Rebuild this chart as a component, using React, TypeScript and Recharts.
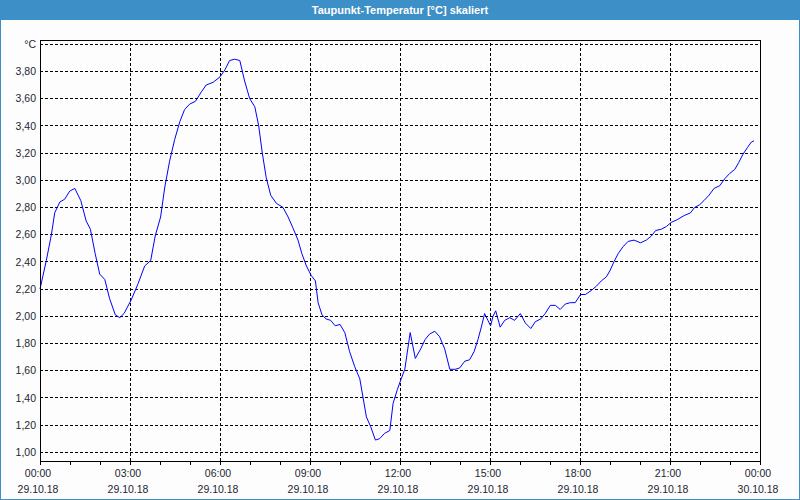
import React from 'react';
import {
    LineChart, Line, XAxis, YAxis, CartesianGrid, ReferenceLine, ReferenceArea,
} from 'recharts';

// Zeit in Stunden ab 29.10.18 00:00
const hours = [
    0.0, 0.21, 0.38, 0.49, 0.66, 0.82, 0.99, 1.16, 1.36, 1.54, 1.68, 1.84, 1.99, 2.16, 2.32, 2.51, 2.66, 2.8,
    3.04, 3.27, 3.49, 3.69, 3.84, 4.02, 4.16, 4.32, 4.49, 4.66, 4.82, 4.99, 5.18, 5.38, 5.54, 5.77,
    6.0, 6.16, 6.32, 6.49, 6.66, 6.82, 6.99, 7.16, 7.29, 7.41, 7.54, 7.69, 7.88, 8.1, 8.27, 8.43, 8.6, 8.73, 8.88,
    9.04, 9.18, 9.27, 9.4, 9.54, 9.69, 9.84, 10.0, 10.16, 10.32, 10.49, 10.66, 10.77, 10.88, 11.02, 11.18, 11.32,
    11.49, 11.66, 11.77, 11.91, 12.04, 12.16, 12.24, 12.34, 12.51, 12.69, 12.84, 12.99, 13.16, 13.32, 13.49,
    13.66, 13.84, 13.99, 14.16, 14.32, 14.47, 14.6, 14.71, 14.82, 14.93, 15.02, 15.1, 15.19, 15.34, 15.49,
    15.66, 15.82, 16.01, 16.18, 16.36, 16.51, 16.69, 16.84, 17.01, 17.18, 17.34, 17.51, 17.68, 17.84,
    18.02, 18.18, 18.38, 18.54, 18.71, 18.88, 19.01, 19.13, 19.27, 19.43, 19.6, 19.8, 20.02, 20.21, 20.38,
    20.52, 20.71, 20.88, 21.04, 21.24, 21.47, 21.68, 21.82, 21.99, 22.13, 22.3, 22.47, 22.66, 22.82, 22.99,
    23.16, 23.29, 23.43, 23.58, 23.71, 23.8,
];

const dewPoint = [
    2.2, 2.41, 2.6, 2.76, 2.84, 2.86, 2.92, 2.94, 2.85, 2.7, 2.64, 2.46, 2.31, 2.27, 2.13, 2.01, 1.99, 2.02,
    2.12, 2.24, 2.37, 2.41, 2.59, 2.73, 2.95, 3.14, 3.3, 3.43, 3.52, 3.56, 3.58, 3.65, 3.7, 3.72,
    3.76, 3.81, 3.88, 3.89, 3.88, 3.73, 3.6, 3.54, 3.4, 3.2, 3.02, 2.89, 2.83, 2.8, 2.73, 2.65, 2.56, 2.46, 2.37,
    2.3, 2.26, 2.1, 2.01, 1.98, 1.97, 1.93, 1.94, 1.88, 1.74, 1.63, 1.54, 1.4, 1.26, 1.19, 1.09, 1.1,
    1.14, 1.16, 1.36, 1.46, 1.54, 1.61, 1.73, 1.88, 1.69, 1.76, 1.83, 1.87, 1.89, 1.85, 1.76,
    1.61, 1.61, 1.62, 1.67, 1.68, 1.74, 1.83, 1.92, 2.02, 1.97, 1.93, 2.0, 2.04, 1.92, 1.97,
    1.99, 1.97, 2.02, 1.95, 1.91, 1.96, 1.98, 2.02, 2.08, 2.08, 2.05, 2.09, 2.1, 2.1,
    2.16, 2.16, 2.19, 2.22, 2.26, 2.29, 2.34, 2.4, 2.46, 2.51, 2.55, 2.56, 2.54, 2.56, 2.59,
    2.63, 2.64, 2.66, 2.69, 2.71, 2.74, 2.76, 2.8, 2.82, 2.85, 2.89, 2.94, 2.96, 3.01, 3.05,
    3.08, 3.13, 3.19, 3.24, 3.28, 3.29,
];

const xTicks = [0, 1, 2, 3, 4, 5, 6, 7, 8, 9, 10, 11, 12, 13, 14, 15, 16, 17, 18, 19, 20, 21, 22, 23, 24];
const gridHours = [3, 6, 9, 12, 15, 18, 21];
const timeLabels = ['00:00', '03:00', '06:00', '09:00', '12:00', '15:00', '18:00', '21:00', '00:00'];
const dateLabels = ['29.10.18', '29.10.18', '29.10.18', '29.10.18', '29.10.18', '29.10.18', '29.10.18', '29.10.18', '30.10.18'];
const yTicks = [1.0, 1.2, 1.4, 1.6, 1.8, 2.0, 2.2, 2.4, 2.6, 2.8, 3.0, 3.2, 3.4, 3.6, 3.8, 4.0];
const yMin = 0.936;
const yMax = 4.031;

const FONT = '"Liberation Sans", Arial, sans-serif';
const TEXT = '#1f1f33';

const chartData = hours.map((h, i) => ({ h, v: dewPoint[i] }));

const TimeTick = (props: any) => {
    const { x, y, payload } = props;
    const h = payload.value as number;
    if (h % 3 !== 0) return <g />;
    const idx = h / 3;
    return (
        <g>
            <text x={x - 2} y={y} dy={10} textAnchor="middle" fontSize={10.5} fontFamily={FONT} fill={TEXT}>
                {timeLabels[idx]}
            </text>
            <text x={x - 2} y={y} dy={26} textAnchor="middle" fontSize={10.5} fontFamily={FONT} fill={TEXT}>
                {dateLabels[idx]}
            </text>
        </g>
    );
};

const formatY = (v: number) => (Math.abs(v - 4) < 1e-6 ? '°C' : v.toFixed(2).replace('.', ','));

export default function App() {
    return (
        <div
            style={{
                width: 800,
                height: 500,
                boxSizing: 'border-box',
                background: '#fcfdfc',
                borderLeft: '1px solid #3d8fc7',
                borderRight: '1px solid #3d8fc7',
                borderBottom: '1px solid #3d8fc7',
                fontFamily: FONT,
            }}
        >
            <style>{'body{margin:0}'}</style>
            <div
                style={{
                    height: 20,
                    background: '#3d8fc7',
                    color: '#fff',
                    fontWeight: 'bold',
                    fontSize: 11,
                    lineHeight: '20px',
                    textAlign: 'center',
                    marginLeft: -1,
                    marginRight: -1,
                }}
            >
                Taupunkt-Temperatur [°C] skaliert
            </div>
            <LineChart width={798} height={479} data={chartData} margin={{ top: 20, right: 39, left: 0, bottom: 0 }}>
                <CartesianGrid vertical={false} stroke="#000" strokeDasharray="3 2" shapeRendering="crispEdges" />
                {gridHours.map((g) => (
                    <ReferenceLine key={g} x={g} stroke="#000" strokeDasharray="3 2" shapeRendering="crispEdges" />
                ))}
                <ReferenceArea
                    x1={0}
                    x2={24}
                    y1={yMin}
                    y2={yMax}
                    stroke="#000"
                    strokeWidth={1}
                    fill="none"
                    shapeRendering="crispEdges"
                />
                <XAxis
                    dataKey="h"
                    type="number"
                    domain={[0, 24]}
                    ticks={xTicks}
                    interval={0}
                    height={38}
                    axisLine={{ stroke: '#000', shapeRendering: 'crispEdges' }}
                    tickLine={{ stroke: '#000', shapeRendering: 'crispEdges' }}
                    tickSize={4}
                    tickMargin={2}
                    tick={<TimeTick />}
                />
                <YAxis
                    type="number"
                    domain={[yMin, yMax]}
                    ticks={yTicks}
                    interval={0}
                    width={39}
                    axisLine={{ stroke: '#000', shapeRendering: 'crispEdges' }}
                    tickLine={false}
                    tickSize={0}
                    tickMargin={4}
                    tickFormatter={formatY}
                    tick={{ fontSize: 10.5, fontFamily: FONT, fill: TEXT }}
                />
                <Line
                    type="linear"
                    dataKey="v"
                    stroke="#0000ff"
                    strokeWidth={1}
                    dot={false}
                    isAnimationActive={false}
                />
            </LineChart>
        </div>
    );
}
